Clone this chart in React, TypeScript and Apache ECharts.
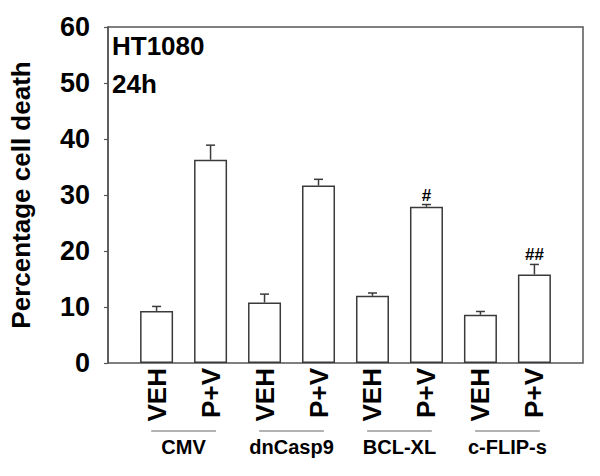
import React, { useEffect, useRef } from "react";
import * as echarts from "echarts";

const categories = ["VEH", "P+V", "VEH", "P+V", "VEH", "P+V", "VEH", "P+V"];
const positions = [1, 2, 3, 4, 5, 6, 7, 8];
const groups = ["CMV", "dnCasp9", "BCL-XL", "c-FLIP-s"];
const groupCenters = [1.5, 3.5, 5.5, 7.5];
const means = [9.3, 36.3, 10.8, 31.7, 12.0, 27.9, 8.6, 15.8];
const errors = [0.8, 2.6, 1.5, 1.1, 0.5, 0.4, 0.6, 1.8];
const marks = ["", "", "", "", "", "#", "", "##"];
const yMin = 0;
const yMax = 60;
const yInterval = 10;

const FONT = "'Liberation Sans', Arial, sans-serif";
const INK = "#3a3a3a";

export default function App() {
  const ref = useRef<HTMLDivElement>(null);
  useEffect(() => {
    if (!ref.current) return;
    const chart = echarts.init(ref.current, undefined, { renderer: "svg" });
    const barData = positions.map((p, i) => [p, means[i]]);
    const errData = positions.map((p, i) => [p, means[i], means[i] + errors[i], i]);
    const groupData = groupCenters.map((g, i) => [g, i]);
    chart.setOption({
      animation: false,
      backgroundColor: "#fff",
      grid: {
        left: 101,
        top: 27,
        right: 17,
        bottom: 113,
        show: true,
        borderColor: "#555",
        borderWidth: 1.5,
        backgroundColor: "transparent",
      },
      graphic: [
        {
          type: "text",
          left: 112,
          top: 33,
          style: { text: "HT1080", font: `bold 26px ${FONT}`, fill: "#000" },
        },
        {
          type: "text",
          left: 112,
          top: 71,
          style: { text: "24h", font: `bold 26px ${FONT}`, fill: "#000" },
        },
      ],
      xAxis: [
        {
          type: "value",
          min: 0.1,
          max: 8.9,
          axisLine: { show: false },
          axisTick: { show: false },
          splitLine: { show: false },
          axisLabel: {
            customValues: positions,
            formatter: (v: number) => categories[Math.round(v) - 1] ?? "",
            rotate: 90,
            margin: 5,
            color: "#000",
            fontSize: 26,
            fontWeight: "bold",
            fontFamily: FONT,
          },
        },
        {
          type: "value",
          min: 0.1,
          max: 8.9,
          position: "bottom",
          axisLine: { show: false },
          axisTick: { show: false },
          splitLine: { show: false },
          axisLabel: {
            customValues: groupCenters,
            formatter: (v: number) => groups[groupCenters.indexOf(v)] ?? "",
            margin: 74,
            color: "#000",
            fontSize: 20,
            fontWeight: "bold",
            fontFamily: FONT,
          },
        },
      ],
      yAxis: {
        type: "value",
        min: yMin,
        max: yMax,
        interval: yInterval,
        name: "Percentage cell death",
        nameLocation: "middle",
        nameGap: 74,
        nameTextStyle: { fontSize: 26, fontWeight: "bold", fontFamily: FONT, color: "#000" },
        axisLine: { show: true, lineStyle: { color: "#555", width: 1.5 } },
        axisTick: { show: true, inside: false, length: 4, lineStyle: { color: "#555", width: 1.2 } },
        splitLine: { show: false },
        axisLabel: {
          margin: 18,
          color: "#000",
          fontSize: 27,
          fontWeight: "bold",
          fontFamily: FONT,
        },
      },
      series: [
        {
          type: "bar",
          xAxisIndex: 0,
          data: barData,
          barWidth: 33,
          itemStyle: { color: "#fff", borderColor: INK, borderWidth: 1.5 },
          z: 2,
        },
        {
          type: "custom",
          xAxisIndex: 0,
          data: errData,
          z: 3,
          renderItem: (params: any, api: any) => {
            const x = api.value(0);
            const lo = api.coord([x, api.value(1)]);
            const hi = api.coord([x, api.value(2)]);
            const idx = api.value(3);
            const cap = 4.5;
            const children: any[] = [
              {
                type: "line",
                shape: { x1: lo[0], y1: lo[1], x2: hi[0], y2: hi[1] },
                style: { stroke: INK, lineWidth: 1.5 },
              },
              {
                type: "line",
                shape: { x1: hi[0] - cap, y1: hi[1], x2: hi[0] + cap, y2: hi[1] },
                style: { stroke: INK, lineWidth: 1.5 },
              },
            ];
            const m = marks[idx];
            if (m) {
              children.push({
                type: "text",
                x: hi[0],
                y: hi[1] - 1,
                style: {
                  text: m,
                  font: `bold 17px ${FONT}`,
                  fill: "#000",
                  align: "center",
                  verticalAlign: "bottom",
                },
              });
            }
            return { type: "group", children };
          },
        },
        {
          type: "custom",
          xAxisIndex: 0,
          data: groupData,
          clip: false,
          silent: true,
          renderItem: (params: any, api: any) => {
            const g = api.value(0);
            const a = api.coord([g - 0.6, yMin]);
            const b = api.coord([g + 0.6, yMin]);
            return {
              type: "line",
              shape: { x1: a[0], y1: a[1] + 68, x2: b[0], y2: b[1] + 68 },
              style: { stroke: "#666", lineWidth: 1.2 },
            };
          },
        },
      ],
    });
    return () => chart.dispose();
  }, []);
  return (
    <div
      ref={ref}
      style={{ position: "fixed", left: 0, top: 0, width: 600, height: 476 }}
    />
  );
}
